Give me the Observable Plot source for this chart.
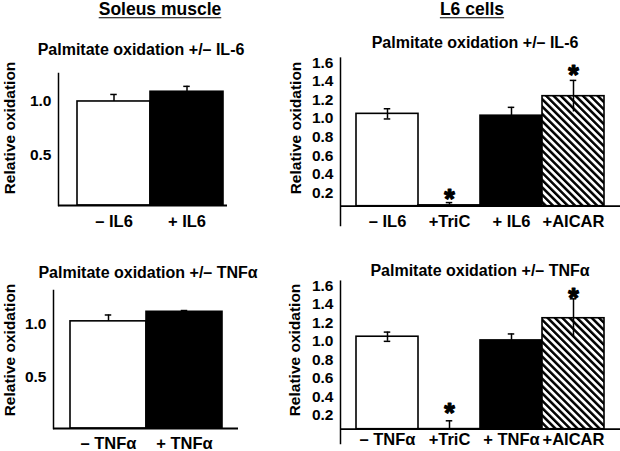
<!DOCTYPE html>
<html><head><meta charset="utf-8">
<script src="https://cdn.jsdelivr.net/npm/d3@7"></script>
<script src="https://cdn.jsdelivr.net/npm/@observablehq/plot@0.6"></script>
<style>
body{margin:0;background:#fff;}
#root{position:relative;width:620px;height:451px;overflow:hidden;font-family:"Liberation Sans",Arial,sans-serif;font-weight:bold;color:#000;background:#fff;}
#root svg.p{position:absolute;left:0;top:0;pointer-events:none;}
.t{position:absolute;white-space:nowrap;transform:translate(-50%,-50%);line-height:1;}
.ttl{font-size:17.5px;text-decoration:underline;text-underline-offset:2px;}
.sub{font-size:16px;}
.ylab{position:absolute;white-space:nowrap;transform:translate(-50%,-50%) rotate(-90deg);font-size:15.5px;line-height:1;}
</style></head><body><div id="root"></div>
<script>
// ---------- data ----------
const soleusIL6Cats = ["– IL6", "+ IL6"];
const soleusIL6Vals = [1.00, 1.09];
const soleusIL6Err  = [0.065, 0.05];

const soleusTNFCats = ["– TNFα", "+ TNFα"];
const soleusTNFVals = [1.03, 1.12];
const soleusTNFErr  = [0.06, 0.012];

const l6IL6Cats = ["– IL6", "+TriC", "+ IL6", "+AICAR"];
const l6IL6Vals = [1.05, 0.065, 1.03, 1.24];
const l6IL6Err  = [0.055, 0.03, 0.09, 0.17];

const l6TNFCats = ["– TNFα", "+TriC", "+ TNFα", "+AICAR"];
const l6TNFVals = [1.05, 0.05, 1.01, 1.25];
const l6TNFErr  = [0.05, 0.09, 0.07, 0.21];

// significance asterisks: the y value (relative oxidation) at which each "*" sits; null = none
const soleusStarAt = [null, null];
const l6IL6StarAt = [null, 0.19, null, 1.52];
const l6TNFStarAt = [null, 0.28, null, 1.53];

const soleusBothErr = [false, false];
const l6BothErr = [true, false, false, true];
const soleusFills = ["white", "black"];
const l6Fills = ["white", "white", "black", "hatch"];

const soleusTicks = [0.5, 1.0];
const l6Ticks = [0.2, 0.4, 0.6, 0.8, 1.0, 1.2, 1.4, 1.6];

const soleusIL6Domain = [0.037, 1.259];
const soleusTNFDomain = [0.019, 1.321];
const l6IL6Domain = [0.056, 1.65];
const l6TNFDomain = [0.049, 1.651];

// ---------- page ----------
const root = document.getElementById("root");
const NS = "http://www.w3.org/2000/svg";
const defs = document.createElementNS(NS, "svg");
defs.setAttribute("width", 0); defs.setAttribute("height", 0);
defs.style.position = "absolute";
defs.innerHTML = `<defs><pattern id="hatch" patternUnits="userSpaceOnUse" width="5.2" height="5.2" patternTransform="rotate(-45)">
<rect width="5.2" height="5.2" fill="white"/><rect x="0" y="0" width="2.5" height="5.2" fill="black"/></pattern></defs>`;
root.appendChild(defs);

const fillOf = f => f === "hatch" ? "url(#hatch)" : f;

function panel(cats, vals, err, fills, starAt, both, domain, ticks, L) {
  const data = cats.map((c, i) => ({cat: c, v: vals[i], e: err[i], fill: fillOf(fills[i]), raw: fills[i], star: starAt[i], both: both[i]}));
  const bw = (L.barX[1] - L.barX[0]) / cats.length;
  const capInset = bw / 2 - 3.5;
  const y0 = domain[0];
  const svg = Plot.plot({
    width: 620, height: 451,
    marginLeft: L.axisX, marginRight: 620 - L.baseRight, marginTop: L.topY, marginBottom: 451 - L.axisBottom,
    x: {type: "band", domain: cats, range: L.barX, padding: 0, axis: null},
    y: {domain, range: [L.baseY, L.topY], axis: null},
    color: {type: "identity"},
    style: {fontFamily: '"Liberation Sans", Arial, sans-serif', background: "transparent", color: "black", overflow: "visible"},
    marks: [
      Plot.barY(data, {x: "cat", y1: y0, y2: "v", fill: "fill", stroke: "black", strokeWidth: 1.6}),
      Plot.ruleX(data, {x: "cat", y1: d => d.both ? d.v - d.e : d.v, y2: d => d.v + d.e, stroke: "black", strokeWidth: 1.5}),
      Plot.tickY(data, {x: "cat", y: d => d.v + d.e, insetLeft: capInset, insetRight: capInset, stroke: "black", strokeWidth: 1.5}),
      Plot.tickY(data.filter(d => d.both && d.raw === "white"), {x: "cat", y: d => d.v - d.e, insetLeft: capInset, insetRight: capInset, stroke: "black", strokeWidth: 1.5}),
      Plot.text(data.filter(d => d.star != null), {x: "cat", y: "star", text: () => "*", fontSize: 27, fontWeight: "bold", dy: 5.5, fill: "black", stroke: "black", strokeWidth: 1.2, strokeLinejoin: "round"}),
      Plot.frame({anchor: "left", stroke: "black", strokeWidth: 1.5}),
      Plot.ruleY([y0], {stroke: "black", strokeWidth: 1.8}),
      Plot.axisY(ticks, {anchor: "left", tickSize: 0, tickPadding: 7, tickFormat: d3.format(".1f"), fontSize: 15.5, fontWeight: "bold", label: null}),
      Plot.text(data, {x: "cat", y: y0, text: "cat", dy: L.labelDy, fontSize: 16.5, fontWeight: "bold"})
    ]
  });
  svg.classList.add("p");
  root.appendChild(svg);
}

panel(soleusIL6Cats, soleusIL6Vals, soleusIL6Err, soleusFills, soleusStarAt, soleusBothErr, soleusIL6Domain, soleusTicks,
  {axisX: 58, baseRight: 227, topY: 73, baseY: 205, axisBottom: 205, barX: [76, 223], labelDy: 16.5});
panel(soleusTNFCats, soleusTNFVals, soleusTNFErr, soleusFills, soleusStarAt, soleusBothErr, soleusTNFDomain, soleusTicks,
  {axisX: 53, baseRight: 238, topY: 290, baseY: 428, axisBottom: 428, barX: [69, 222], labelDy: 15});
panel(l6IL6Cats, l6IL6Vals, l6IL6Err, l6Fills, l6IL6StarAt, l6BothErr, l6IL6Domain, l6Ticks,
  {axisX: 340, baseRight: 620, topY: 57.6, baseY: 205.7, axisBottom: 225, barX: [355, 605], labelDy: 16});
panel(l6TNFCats, l6TNFVals, l6TNFErr, l6Fills, l6TNFStarAt, l6BothErr, l6TNFDomain, l6Ticks,
  {axisX: 340, baseRight: 620, topY: 280.7, baseY: 428.7, axisBottom: 443, barX: [355, 605], labelDy: 10.5});

// ---------- texts ----------
function addText(txt, x, y, cls) {
  const d = document.createElement("div");
  d.className = cls; d.textContent = txt;
  d.style.left = x + "px"; d.style.top = y + "px";
  root.appendChild(d);
}
addText("Soleus muscle", 160, 10, "t ttl");
addText("L6 cells", 472, 10, "t ttl");
addText("Palmitate oxidation +/– IL-6", 141, 50, "t sub");
addText("Palmitate oxidation +/– IL-6", 475, 43, "t sub");
addText("Palmitate oxidation +/– TNFα", 148, 273, "t sub");
addText("Palmitate oxidation +/– TNFα", 480, 271, "t sub");
addText("Relative oxidation", 10, 128, "ylab");
addText("Relative oxidation", 10, 350, "ylab");
addText("Relative oxidation", 296, 128, "ylab");
addText("Relative oxidation", 295, 350, "ylab");
</script></body></html>
